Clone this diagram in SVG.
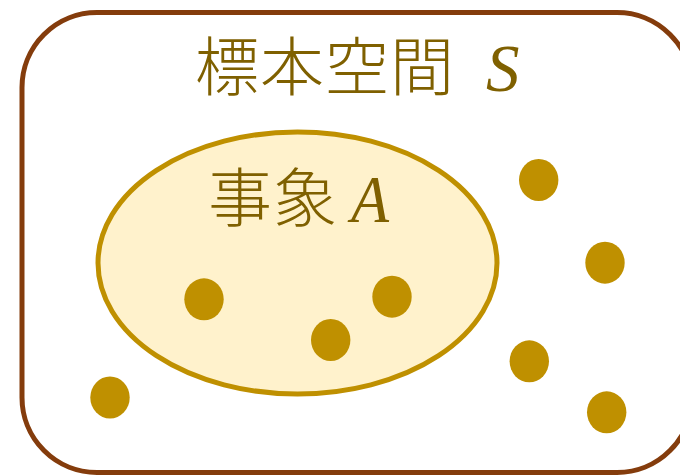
<svg xmlns="http://www.w3.org/2000/svg" width="680" height="475" viewBox="0 0 680 475">
<style>
.cjk{font-family:"Noto Sans CJK JP","Noto Sans CJK SC",sans-serif;font-weight:300;fill:#7F6000;font-size:64px;letter-spacing:1px}
.var{font-family:"Liberation Serif",serif;font-style:italic;fill:#7F6000;font-size:67px}
.dot{fill:#BF9000}
</style>
<rect width="680" height="475" fill="#FFFFFF"/>
<g id="sample-space">
<rect x="22" y="12.5" width="670" height="460" rx="75" ry="75" fill="#FFFFFF" stroke="#843C0C" stroke-width="5"/>
<text class="cjk" x="195" y="90">標本空間</text>
<text class="var" x="486" y="91">S</text>
</g>
<g id="event-a">
<ellipse cx="297.5" cy="263" rx="199.5" ry="131" fill="#FFF2CC" stroke="#BF9000" stroke-width="5"/>
<text class="cjk" x="208" y="221">事象</text>
<text class="var" x="351" y="222" textLength="38" lengthAdjust="spacingAndGlyphs">A</text>
</g>
<g id="outcomes">
<ellipse class="dot" cx="204" cy="299.3" rx="19.7" ry="21"/>
<ellipse class="dot" cx="392" cy="296.7" rx="19.7" ry="21"/>
<ellipse class="dot" cx="330.7" cy="340" rx="19.7" ry="21"/>
<ellipse class="dot" cx="538.7" cy="180" rx="19.7" ry="21"/>
<ellipse class="dot" cx="605" cy="262.7" rx="19.7" ry="21"/>
<ellipse class="dot" cx="529.3" cy="361.3" rx="19.7" ry="21"/>
<ellipse class="dot" cx="606.7" cy="412.3" rx="19.7" ry="21"/>
<ellipse class="dot" cx="110" cy="397.5" rx="19.7" ry="21"/>
</g>
<g id="connectors"/>
</svg>
